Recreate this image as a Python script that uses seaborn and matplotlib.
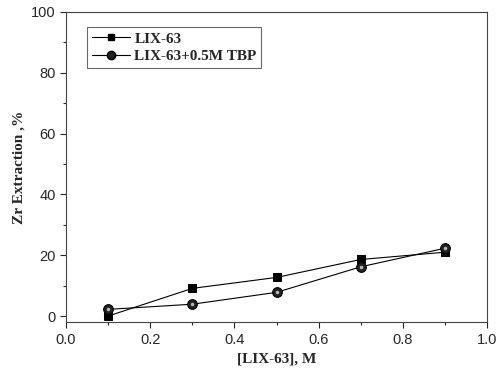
import matplotlib
matplotlib.use("Agg")
import matplotlib.pyplot as plt
import seaborn as sns
import pandas as pd
from matplotlib.ticker import MultipleLocator
from matplotlib.lines import Line2D

conc = [0.1, 0.3, 0.5, 0.7, 0.9]
lix63 = [0.0, 9.1, 12.7, 18.6, 21.0]
lix63_tbp = [2.2, 3.9, 7.8, 16.2, 22.3]
labels = ["LIX-63", "LIX-63+0.5M TBP"]

sns.set_style("ticks")
plt.rcParams["font.family"] = ["Liberation Sans", "DejaVu Sans"]

df = pd.DataFrame({"conc": conc * 2,
                   "ext": lix63 + lix63_tbp,
                   "series": [labels[0]] * 5 + [labels[1]] * 5})

fig = plt.figure(figsize=(4.96, 3.72), dpi=100)
ax = fig.add_axes([0.133, 0.134, 0.849, 0.834])

sns.lineplot(data=df[df.series == labels[0]], x="conc", y="ext", ax=ax,
             color="black", lw=0.8, marker="s", markersize=6, markeredgecolor="black",
             legend=False)
sns.lineplot(data=df[df.series == labels[1]], x="conc", y="ext", ax=ax,
             color="black", lw=0.8, marker="o", markersize=7, markerfacecolor="#222222",
             markeredgecolor="black", legend=False)
# highlight on the circle markers
ax.plot(conc, lix63_tbp, ls="none", marker="o", markersize=2.5, color="#bbbbbb",
        markeredgewidth=0)

ax.set_xlim(0, 1.0)
ax.set_ylim(-2, 100)
ax.xaxis.set_major_locator(MultipleLocator(0.2))
ax.xaxis.set_minor_locator(MultipleLocator(0.1))
ax.yaxis.set_major_locator(MultipleLocator(20))
ax.yaxis.set_minor_locator(MultipleLocator(10))
ax.tick_params(which="major", direction="out", length=4, width=0.8, labelsize=10.5)
ax.tick_params(which="minor", direction="out", length=2.5, width=0.8)
ax.set_xticks([0.0, 0.2, 0.4, 0.6, 0.8, 1.0])
ax.set_xticklabels(["0.0", "0.2", "0.4", "0.6", "0.8", "1.0"])
for s in ax.spines.values():
    s.set_linewidth(0.8)
    s.set_color("#444444")

ax.set_xlabel("[LIX-63], M", family="Liberation Serif", fontweight="bold", fontsize=11)
ax.set_ylabel("Zr Extraction ,%", family="Liberation Serif", fontweight="bold", fontsize=11)

handles = [
    Line2D([], [], color="black", lw=0.8, marker="s", markersize=5),
    Line2D([], [], color="black", lw=0.8, marker="o", markersize=6, markerfacecolor="#222222"),
]
leg = ax.legend(handles, labels, loc="upper left", bbox_to_anchor=(0.05, 0.95),
                borderaxespad=0,
                prop={"family": "Liberation Serif", "weight": "bold", "size": 11},
                frameon=True, fancybox=False, edgecolor="#444444", borderpad=0.3,
                handlelength=2.5, labelspacing=0.25, handletextpad=0.3)
leg.get_frame().set_linewidth(0.8)

fig.savefig("out.png", dpi=100)
